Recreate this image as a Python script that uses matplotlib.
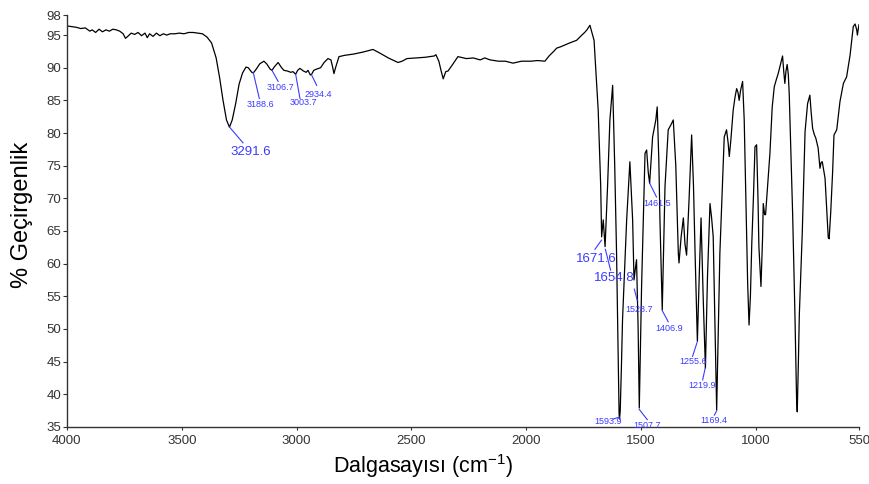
import numpy as np
import matplotlib
matplotlib.use("Agg")
import matplotlib.pyplot as plt

plt.rcParams["font.family"] = ["Liberation Sans", "DejaVu Sans"]
plt.rcParams["mathtext.default"] = "regular"

# IR spectrum: (wavenumber cm-1, % transmittance)
spectrum = [
    (4000, 96.4), (3980, 96.3), (3960, 96.2), (3940, 96.0), (3920, 96.1),
    (3900, 95.6), (3890, 95.8), (3875, 95.4), (3860, 95.9), (3845, 95.5),
    (3830, 95.8), (3815, 95.6), (3800, 95.9), (3785, 95.8), (3770, 95.6),
    (3755, 95.2), (3745, 94.5), (3735, 94.8), (3720, 95.3), (3705, 95.1),
    (3690, 95.4), (3675, 94.9), (3660, 95.3), (3650, 94.6), (3640, 95.2),
    (3625, 94.8), (3610, 95.3), (3595, 94.9), (3580, 95.2), (3565, 95.0),
    (3550, 95.2), (3530, 95.2), (3510, 95.3), (3490, 95.2), (3470, 95.4),
    (3450, 95.4), (3430, 95.3), (3410, 95.2), (3390, 94.7), (3370, 93.8),
    (3350, 91.5), (3335, 88.5), (3320, 85.0), (3305, 82.0), (3292, 80.9),
    (3280, 82.0), (3265, 84.5), (3250, 87.5), (3235, 89.2), (3220, 90.1),
    (3210, 90.0), (3195, 89.3), (3188, 89.2), (3175, 89.8), (3160, 90.6),
    (3142, 91.0), (3130, 90.6), (3115, 89.8), (3107, 89.6), (3095, 90.2),
    (3080, 90.8), (3065, 90.0), (3055, 89.6), (3040, 89.5), (3025, 89.3),
    (3015, 89.4), (3004, 89.0), (2995, 89.6), (2985, 89.9), (2970, 89.5),
    (2958, 89.3), (2950, 89.6), (2940, 88.9), (2934, 89.0), (2925, 89.6),
    (2912, 89.8), (2895, 90.0), (2880, 90.8), (2863, 91.4), (2850, 91.2),
    (2842, 90.0), (2837, 89.1), (2830, 90.0), (2815, 91.7), (2790, 91.9),
    (2750, 92.1), (2710, 92.4), (2667, 92.8), (2640, 92.3), (2600, 91.5),
    (2558, 90.8), (2540, 91.0), (2519, 91.4), (2480, 91.5), (2440, 91.6),
    (2400, 91.8), (2393, 92.0), (2380, 91.0), (2370, 89.5), (2361, 88.3),
    (2350, 89.4), (2340, 89.5), (2320, 90.5), (2297, 91.7), (2260, 91.4),
    (2230, 91.5), (2200, 91.2), (2180, 91.5), (2157, 91.2), (2120, 91.0),
    (2090, 91.0), (2057, 90.7), (2020, 91.0), (1980, 91.0), (1950, 91.1),
    (1918, 91.0), (1900, 91.8), (1880, 92.5), (1867, 93.0), (1850, 93.2),
    (1830, 93.5), (1810, 93.8), (1795, 94.0), (1780, 94.2), (1760, 94.9),
    (1745, 95.4), (1735, 95.8), (1722, 96.5), (1715, 95.6), (1704, 94.2),
    (1686, 83.5), (1675, 71.8), (1671, 64.1), (1664, 66.7), (1656, 62.6),
    (1645, 72.0), (1635, 82.0), (1623, 87.3), (1614, 75.0), (1606, 61.6),
    (1600, 48.0), (1595, 37.0), (1593, 36.2), (1590, 37.5), (1585, 44.0),
    (1580, 51.4), (1562, 66.7), (1548, 75.6), (1536, 66.7), (1530, 57.5),
    (1525, 59.0), (1519, 60.6), (1512, 50.0), (1507, 37.9), (1497, 56.5),
    (1482, 76.9), (1475, 77.4), (1468, 74.0), (1462, 72.3), (1449, 79.4),
    (1435, 82.0), (1429, 84.0), (1422, 76.0), (1417, 66.7), (1407, 52.9),
    (1395, 71.8), (1381, 80.5), (1370, 81.2), (1359, 82.0), (1348, 75.0),
    (1337, 61.6), (1334, 60.1), (1325, 64.0), (1315, 67.0), (1308, 63.0),
    (1301, 61.3), (1290, 70.0), (1279, 79.7), (1271, 72.0), (1264, 61.6),
    (1254, 48.1), (1246, 58.0), (1238, 67.0), (1228, 54.0), (1219, 44.0),
    (1210, 58.0), (1199, 69.2), (1192, 67.0), (1185, 64.1), (1178, 52.0),
    (1170, 37.6), (1163, 50.0), (1156, 61.6), (1145, 72.0), (1137, 79.4),
    (1127, 80.5), (1120, 78.5), (1115, 76.4), (1108, 79.0), (1098, 83.5),
    (1090, 85.5), (1083, 86.8), (1077, 86.2), (1072, 85.0), (1066, 86.5),
    (1057, 87.9), (1050, 82.0), (1044, 71.8), (1035, 57.0), (1029, 50.6),
    (1023, 55.0), (1017, 63.1), (1010, 70.0), (1003, 77.9), (996, 78.2),
    (990, 70.0), (986, 62.6), (977, 56.5), (970, 64.0), (967, 69.2),
    (961, 67.5), (957, 67.5), (948, 72.0), (938, 76.9), (928, 84.0),
    (919, 87.1), (910, 88.2), (902, 89.1), (892, 90.5), (883, 91.8),
    (878, 89.5), (873, 87.6), (868, 89.5), (863, 90.5), (858, 89.0),
    (854, 86.1), (846, 76.0), (839, 67.5), (829, 52.1), (822, 39.4),
    (819, 37.3), (814, 45.0), (810, 52.1), (797, 64.9), (785, 80.2),
    (774, 84.5), (764, 85.8), (758, 83.0), (752, 80.7), (745, 79.8),
    (738, 79.2), (728, 77.7), (720, 74.6), (715, 75.5), (710, 75.6),
    (698, 73.1), (691, 68.5), (684, 64.0), (680, 63.8), (673, 68.0),
    (665, 74.0), (659, 79.7), (647, 80.5), (633, 84.8), (618, 87.6),
    (604, 88.6), (589, 91.9), (575, 96.3), (567, 96.7), (560, 95.8),
    (557, 95.0), (553, 96.0), (550, 96.6),
]

# peak labels
peak_labels = ["3291.6", "3188.6", "3106.7", "3003.7", "2934.4", "1671.6",
               "1654.8", "1593.9", "1528.7", "1507.7", "1461.5", "1406.9",
               "1255.6", "1219.9", "1169.4"]
peak_T = [80.9, 89.3, 89.6, 89.0, 88.9, 63.6, 62.2, 36.5, 56.1, 37.7,
          72.3, 52.8, 47.9, 44.0, 37.5]
# leader line ends and text anchors (left, centre) in data units
leader_end = [(3233, 78.5), (3162, 85.3), (3080, 87.9), (2985, 85.3),
              (2912, 87.3), (1700, 62.2), (1632, 59.0), (1620, 36.2),
              (1516, 54.4), (1472, 36.1), (1432, 70.2), (1381, 51.1),
              (1275, 45.8), (1231, 42.2), (1180, 36.8)]
text_pos = [(3286, 77.1), (3217, 84.3), (3130, 87.0), (3032, 84.6),
            (2963, 85.9), (1783, 60.7), (1703, 57.8), (1703, 35.8),
            (1567, 53.0), (1533, 35.2), (1489, 69.2), (1436, 50.1),
            (1334, 45.0), (1294, 41.3), (1240, 36.0)]
big_labels = {"3291.6", "1671.6", "1654.8"}

x_ticks = [4000, 3500, 3000, 2500, 2000, 1500, 1000, 550]
y_ticks = [35, 40, 45, 50, 55, 60, 65, 70, 75, 80, 85, 90, 95, 98]

data = np.array(spectrum)
wn, tr = data[:, 0], data[:, 1]

fig = plt.figure(figsize=(8.69, 4.84), dpi=100)
ax = fig.add_axes([0.077, 0.118, 0.9115, 0.85])
ax.plot(wn, tr, color="black", lw=0.9)

label_color = "#3a3aff"
for lab, pt, end, tp in zip(peak_labels, peak_T, leader_end, text_pos):
    w = float(lab)
    ax.plot([w, end[0]], [pt, end[1]], color=label_color, lw=0.8,
            clip_on=False)
    size = 9.5 if lab in big_labels else 6.5
    ax.text(tp[0], tp[1], lab, color=label_color, fontsize=size,
            ha="left", va="center", clip_on=False)

ax.set_xlim(4000, 550)
ax.set_ylim(35, 98)
ax.set_xticks(x_ticks)
ax.set_yticks(y_ticks)
for s in ["top", "right"]:
    ax.spines[s].set_visible(False)
for s in ["left", "bottom"]:
    ax.spines[s].set_color("#333333")
    ax.spines[s].set_linewidth(1.0)
ax.tick_params(axis="both", direction="out", length=3, width=0.8,
               colors="#333333", labelsize=9.5, pad=1)
ax.tick_params(axis="x", length=2, pad=4)

fig.text(423 / 869, 1 - 466 / 484, r"Dalgasayısı (cm$^{-1}$)", fontsize=15.5,
         ha="center", va="center")
fig.text(22 / 869, 1 - 215 / 484, "% Geçirgenlik", fontsize=17,
         rotation=90, ha="center", va="center")

fig.savefig("out.png", dpi=100)
plt.close(fig)
